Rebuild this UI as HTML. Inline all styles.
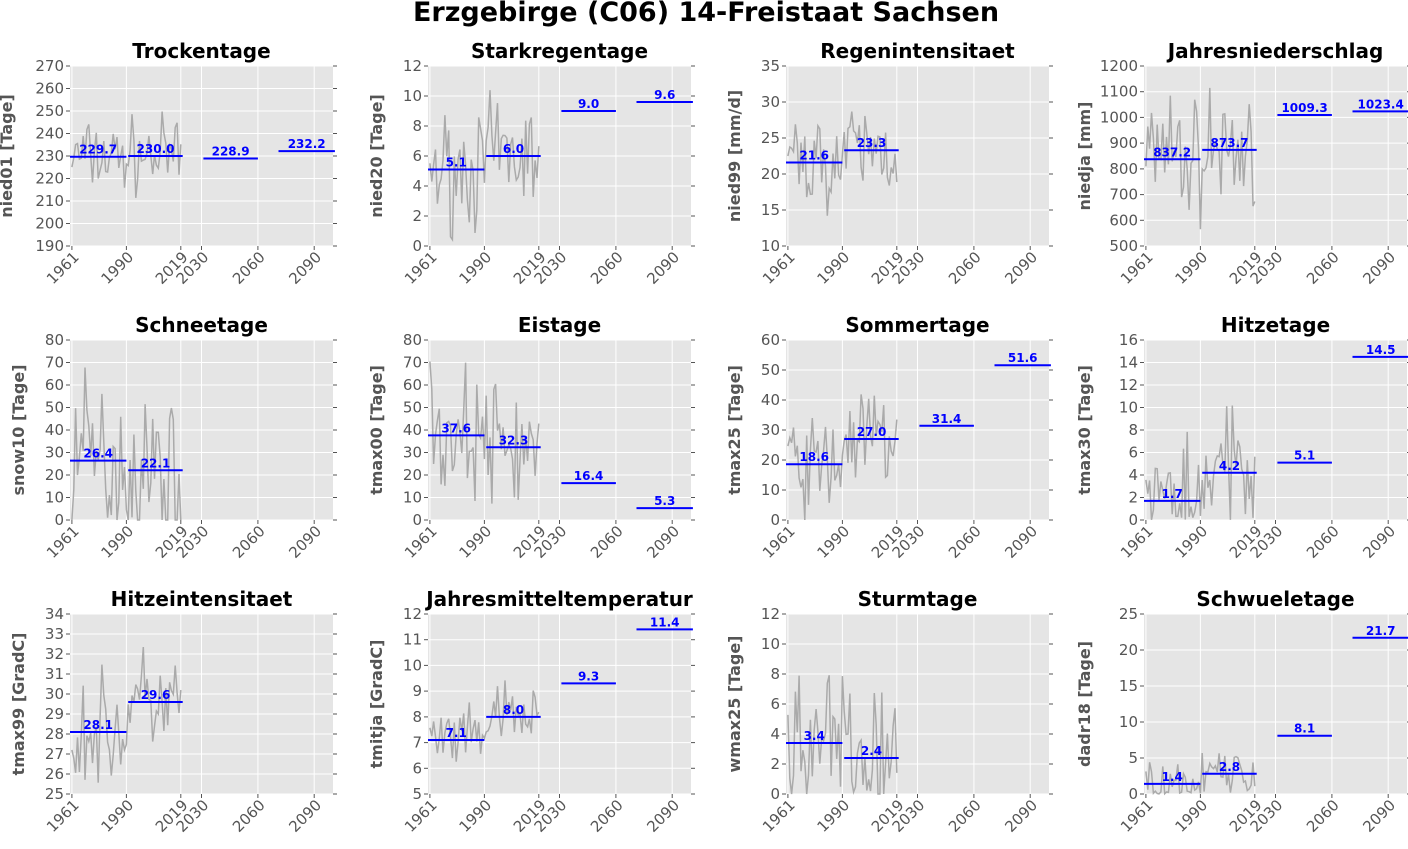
<!DOCTYPE html>
<html><head><meta charset="utf-8"><style>
body{margin:0;background:#fff;}
svg{display:block;font-family:"DejaVu Sans","Liberation Sans",sans-serif;}
</style></head><body>
<svg id="s" width="1408" height="849" xmlns="http://www.w3.org/2000/svg">
<text x="706" y="21" text-anchor="middle" font-size="27" font-weight="bold" fill="#000">Erzgebirge (C06) 14-Freistaat  Sachsen</text>
</svg>
<script>
var P=[
["Trockentage","nied01 [Tage]",190,270,10,[229.7,230.0,228.9,232.2],8,0],
["Starkregentage","nied20 [Tage]",0,12,2,[5.1,6.0,9.0,9.6],1.8,1],
["Regenintensitaet","nied99 [mm/d]",10,35,5,[21.6,23.3],3,1],
["Jahresniederschlag","niedja [mm]",500,1200,100,[837.2,873.7,1009.3,1023.4],120,1],
["Schneetage","snow10 [Tage]",0,80,10,[26.4,22.1],18,0],
["Eistage","tmax00 [Tage]",0,80,10,[37.6,32.3,16.4,5.3],14,0],
["Sommertage","tmax25 [Tage]",0,60,10,[18.6,27.0,31.4,51.6],8,0],
["Hitzetage","tmax30 [Tage]",0,16,2,[1.7,4.2,5.1,14.5],2.5,1],
["Hitzeintensitaet","tmax99 [GradC]",25,34,1,[28.1,29.6],1.3,0],
["Jahresmitteltemperatur","tmitja [GradC]",5,12,1,[7.1,8.0,9.3,11.4],0.6,0],
["Sturmtage","wmax25 [Tage]",0,12,2,[3.4,2.4],2.5,0],
["Schwueletage","dadr18 [Tage]",0,25,5,[1.4,2.8,8.1,21.7],1.6,1]];
var X0=[70,428,786,1144],Y0=[66,340,614],W=263,H=180;
var s=document.getElementById('s'),h='';
var seed=7;function rnd(){seed=(seed*16807)%2147483647;return seed/2147483647;}
function gx(x,yr){return x+(yr-1960)/140*W;}
P.forEach(function(p,i){
 var x=X0[i%4],y=Y0[Math.floor(i/4)],lo=p[2],hi=p[3];
 function gy(v){return y+H-(v-lo)/(hi-lo)*H;}
 h+='<rect x="'+x+'" y="'+y+'" width="'+W+'" height="'+H+'" fill="#e5e5e5"/>';
 for(var v=lo;v<=hi+1e-9;v+=p[4]){var yy=gy(v).toFixed(1);
  h+='<line x1="'+x+'" x2="'+(x+W)+'" y1="'+yy+'" y2="'+yy+'" stroke="#fff" stroke-width="1"/>';
  h+='<line x1="'+(x-4)+'" x2="'+x+'" y1="'+yy+'" y2="'+yy+'" stroke="#555"/>';
  h+='<line x1="'+(x+W)+'" x2="'+(x+W+4)+'" y1="'+yy+'" y2="'+yy+'" stroke="#555"/>';
  h+='<text x="'+(x-6)+'" y="'+(+yy+5)+'" text-anchor="end" font-size="15" fill="#555">'+(Math.round(v*10)/10)+'</text>';}
 [1961,1990,2019,2030,2060,2090].forEach(function(t){var xx=gx(x,t).toFixed(1);
  h+='<line x1="'+xx+'" x2="'+xx+'" y1="'+y+'" y2="'+(y+H)+'" stroke="#fff"/>';
  h+='<line x1="'+xx+'" x2="'+xx+'" y1="'+(y+H)+'" y2="'+(y+H+4)+'" stroke="#555"/>';
  h+='<text transform="translate('+(+xx+8)+','+(y+H+12)+') rotate(-45)" text-anchor="end" font-size="15" fill="#555">'+t+'</text>';});
 var pts=[];for(var yr=1961;yr<=2019;yr++){var m=yr<=1990?p[5][0]:p[5][1];
  var r=(rnd()+rnd()+rnd()-1.5)*2*p[6];var v=m+r;if(p[7]&&v<lo)v=lo+rnd()*p[6]*0.3;if(v<lo)v=lo;if(v>hi)v=hi;
  pts.push(gx(x,yr).toFixed(1)+','+gy(v).toFixed(1));}
 h+='<polyline points="'+pts.join(' ')+'" fill="none" stroke="#aaa" stroke-width="1.5"/>';
 var per=[[1960,1990],[1991,2020],[2031,2060],[2071,2101]];
 p[5].forEach(function(m,k){var a=gx(x,per[k][0]),b=gx(x,per[k][1]),yy=gy(m);
  h+='<line x1="'+a.toFixed(1)+'" x2="'+b.toFixed(1)+'" y1="'+yy.toFixed(1)+'" y2="'+yy.toFixed(1)+'" stroke="#00f" stroke-width="2"/>';
  h+='<text x="'+((a+b)/2).toFixed(1)+'" y="'+(yy-3).toFixed(1)+'" text-anchor="middle" font-size="12" font-weight="bold" fill="#00f">'+m.toFixed(1)+'</text>';});
 h+='<text x="'+(x+W/2)+'" y="'+(y-8)+'" text-anchor="middle" font-size="20" font-weight="bold" fill="#000">'+p[0]+'</text>';
 h+='<text transform="translate('+(i%4==3?x-54:(hi>=100?x-58:x-46))+','+(y+H/2)+') rotate(-90)" text-anchor="middle" font-size="16" font-weight="bold" fill="#555">'+p[1]+'</text>';
});
s.insertAdjacentHTML('beforeend',h);
</script>
</body></html>
